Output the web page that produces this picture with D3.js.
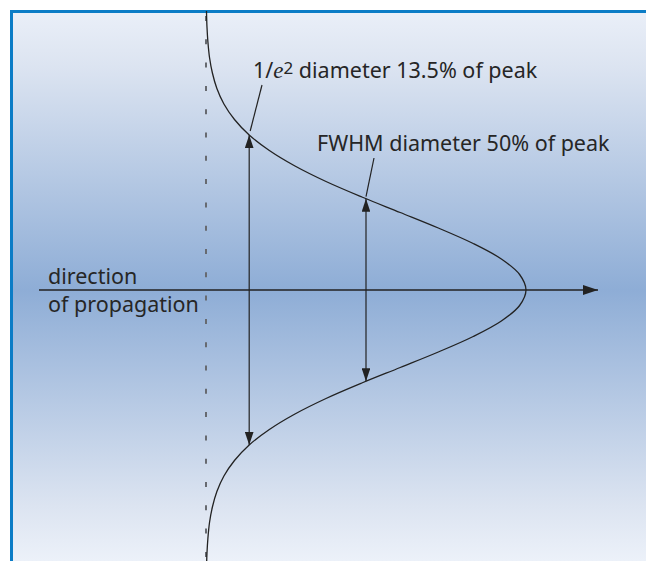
<!DOCTYPE html>
<html><head><meta charset="utf-8">
<script src="https://cdn.jsdelivr.net/npm/d3@7"></script>
<style>html,body{margin:0;padding:0;background:#fff;overflow:hidden;}svg{display:block;}</style>
</head><body>
<script>
// Beam profile: position (in units of the 1/e² radius) vs. relative intensity
const positions = [-1.8,-1.7,-1.6,-1.5,-1.4,-1.3,-1.2,-1.1,-1.0,-0.9,-0.8,-0.7,-0.6,-0.5,-0.4,-0.3,-0.2,-0.1,0,
  0.1,0.2,0.3,0.4,0.5,0.6,0.7,0.8,0.9,1.0,1.1,1.2,1.3,1.4,1.5,1.6,1.7,1.8];
const intensities = [0.0015,0.003,0.006,0.011,0.020,0.034,0.056,0.089,0.135,0.198,0.278,0.375,0.487,0.607,0.726,0.835,0.923,0.980,1.0,
  0.980,0.923,0.835,0.726,0.607,0.487,0.375,0.278,0.198,0.135,0.089,0.056,0.034,0.020,0.011,0.006,0.003,0.0015];
// Diameter markers: half-width (position units) and the intensity level
const markerLabels = ["1/e² diameter 13.5% of peak", "FWHM diameter 50% of peak"];
const markerHalfWidths = [1.0, 0.589];
const markerLevels = [0.135, 0.5];
const axisLabels = ["direction", "of propagation"];

const W = 646, H = 561;
const svg = d3.select("body").append("svg").attr("width", W).attr("height", H);
const defs = svg.append("defs");
const grad = defs.append("linearGradient").attr("id","bg").attr("x1",0).attr("y1",0).attr("x2",0).attr("y2",1);
[[0,"#eaeff8"],[0.1,"#dce4f1"],[0.507,"#8eadd6"],[0.9,"#dce4f1"],[1,"#ecf1f9"]].forEach(([o,c])=>
  grad.append("stop").attr("offset",o).attr("stop-color",c));

const panel = {x:11, y:11};
svg.append("rect").attr("x",panel.x).attr("y",panel.y).attr("width",W-panel.x).attr("height",H-panel.y).attr("fill","url(#bg)");
svg.append("line").attr("x1",10).attr("x2",W).attr("y1",11.5).attr("y2",11.5).attr("stroke","#0b7cc6").attr("stroke-width",3);
svg.append("line").attr("x1",11.5).attr("x2",11.5).attr("y1",10).attr("y2",H).attr("stroke","#0b7cc6").attr("stroke-width",3);

const x = d3.scaleLinear().domain([0,1]).range([206,526]);
const y = d3.scaleLinear().domain([-1,1]).range([135,445]);

// arrow markers
const mk = (id, size) => defs.append("marker").attr("id",id).attr("viewBox","0 0 12 8")
  .attr("refX",12).attr("refY",4).attr("markerWidth",size).attr("markerHeight",size*8/12)
  .attr("markerUnits","userSpaceOnUse").attr("orient","auto-start-reverse")
  .append("path").attr("d","M0,0 L12,4 L0,8 Z").attr("fill","#222");
mk("arr",13); mk("arrAxis",15);

// dashed baseline (zero intensity)
svg.append("line").attr("x1",x(0)).attr("x2",x(0)).attr("y1",13).attr("y2",H)
  .attr("stroke","#676a70").attr("stroke-width",2).attr("stroke-dasharray","5,18.3").attr("stroke-dashoffset",-3);

// direction of propagation axis
svg.append("line").attr("x1",39).attr("x2",598).attr("y1",y(0)).attr("y2",y(0))
  .attr("stroke","#222").attr("stroke-width",1.3).attr("marker-end","url(#arrAxis)");

// gaussian profile
const pts = positions.map((p,i)=>[x(intensities[i]), y(p)]);
svg.append("path").attr("d", d3.line().curve(d3.curveCatmullRom)(pts))
  .attr("fill","none").attr("stroke","#222").attr("stroke-width",1.3);

// diameter arrows
markerHalfWidths.forEach((hw,i)=>{
  const xx = x(markerLevels[i]);
  svg.append("line").attr("x1",xx).attr("x2",xx).attr("y1",y(-hw)).attr("y2",y(hw))
    .attr("stroke","#222").attr("stroke-width",1.2)
    .attr("marker-start","url(#arr)").attr("marker-end","url(#arr)");
});

// leader lines
const leaders = [[[262,85],[x(markerLevels[0])+1,y(-markerHalfWidths[0])-4]],[[374,158],[x(markerLevels[1]),y(-markerHalfWidths[1])-2]]];
leaders.forEach(l=>svg.append("line").attr("x1",l[0][0]).attr("y1",l[0][1]).attr("x2",l[1][0]).attr("y2",l[1][1])
  .attr("stroke","#222").attr("stroke-width",1.2));

const font = "'Noto Sans', sans-serif";
const fs = 21.5;
const t1 = svg.append("text").attr("x",253).attr("y",78).attr("font-family",font).attr("font-size",fs).attr("fill","#262626");
t1.append("tspan").text("1/");
t1.append("tspan").text("e").attr("font-family","'Liberation Serif', serif").attr("font-style","italic").attr("font-size",23);
t1.append("tspan").text("2").attr("font-size",17).attr("dy",-4);
t1.append("tspan").text(" diameter 13.5% of peak").attr("dy",4);

svg.append("text").attr("x",317).attr("y",151).attr("font-family",font).attr("font-size",fs).attr("fill","#262626").text(markerLabels[1]);

svg.append("text").attr("x",48).attr("y",284).attr("font-family",font).attr("font-size",fs).attr("fill","#262626").text(axisLabels[0]);
svg.append("text").attr("x",48).attr("y",312).attr("font-family",font).attr("font-size",fs).attr("fill","#262626").text(axisLabels[1]);
</script>
</body></html>
